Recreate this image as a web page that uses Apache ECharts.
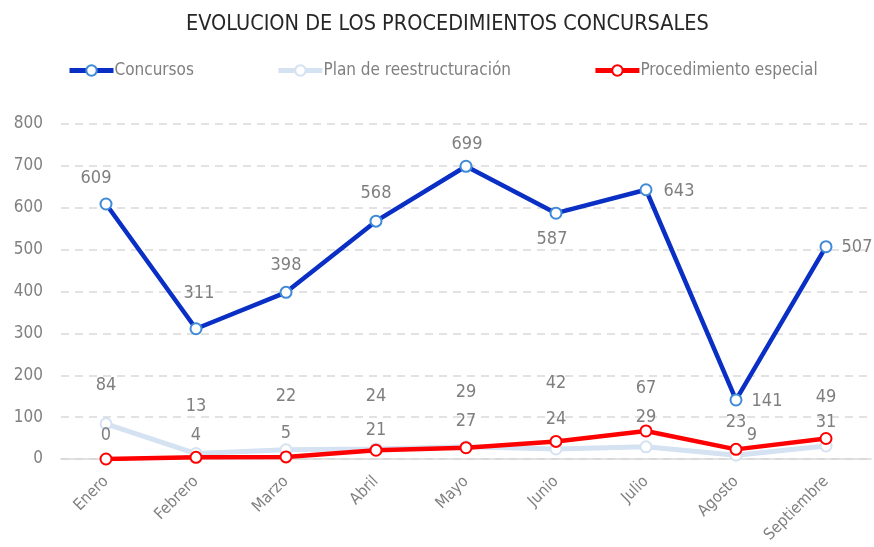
<!DOCTYPE html>
<html>
<head>
<meta charset="utf-8">
<script src="https://cdn.jsdelivr.net/npm/echarts@6/dist/echarts.min.js"></script>
<style>
  html, body { margin: 0; padding: 0; background: #fff; }
  #chart { width: 874px; height: 547px; }
</style>
</head>
<body>
<div id="chart"></div>
<script>
// datos
var meses = ['Enero', 'Febrero', 'Marzo', 'Abril', 'Mayo', 'Junio', 'Julio', 'Agosto', 'Septiembre'];
var concursos = [609, 311, 398, 568, 699, 587, 643, 141, 507];
var planReestructuracion = [84, 13, 22, 24, 29, 24, 29, 9, 31];
var procedimientoEspecial = [0, 4, 5, 21, 27, 42, 67, 23, 49];
var yTicks = [0, 100, 200, 300, 400, 500, 600, 700, 800];

// desplazamiento de las etiquetas (como en la hoja original)
var offConcursos = [[-10, -26], [3, -35], [0, -27], [0, -28], [1, -22], [-4, 26], [33, 2], [31, 1], [31, 1]];
var offPlan = [[0, -38], [0, -47], [0, -53], [0, -53], [0, -55], [0, -30], [0, -30], [16, -20], [0, -24]];
var offEspecial = [[0, -24], [0, -22], [0, -24], [0, -20], [0, -26], [0, -58], [0, -43], [0, -27], [0, -41]];

var font = "'DejaVu Sans Condensed', 'Roboto', sans-serif";

function withLabels(values, offsets){
  return values.map(function(v, i){
    return { value: v, label: { offset: offsets[i] } };
  });
}

var myChart = echarts.init(document.getElementById('chart'));

var labelBase = {
  show: true,
  position: 'inside',
  color: '#7f7f7f',
  fontSize: 18,
  fontFamily: font
};

var option = {
  animation: false,
  title: {
    text: 'EVOLUCION DE LOS PROCEDIMIENTOS CONCURSALES',
    left: 181,
    top: 8,
    textStyle: {
      color: '#262626',
      fontSize: 21.5,
      fontWeight: 'normal',
      fontFamily: font
    }
  },
  legend: {
    top: 57,
    left: 62,
    itemGap: 82,
    itemWidth: 44,
    itemHeight: 13,
    lineStyle: { width: 5 },
    textStyle: {
      color: '#808080',
      fontSize: 17,
      fontFamily: font,
      padding: [0, 0, 0, -4]
    },
    data: ['Concursos', 'Plan de reestructuración', 'Procedimiento especial']
  },
  grid: {
    left: 61,
    right: 3,
    top: 124,
    bottom: 88
  },
  xAxis: {
    type: 'category',
    data: meses,
    axisLine: { lineStyle: { color: '#d9d9d9', width: 1.5 } },
    axisTick: { show: false },
    axisLabel: {
      rotate: 45,
      color: '#808080',
      fontSize: 16,
      fontFamily: font,
      margin: 20
    }
  },
  yAxis: {
    type: 'value',
    min: yTicks[0],
    max: yTicks[yTicks.length - 1],
    interval: 100,
    axisLine: { show: false },
    axisTick: { show: false },
    axisLabel: {
      color: '#808080',
      fontSize: 17,
      fontFamily: font,
      margin: 18
    },
    splitLine: {
      lineStyle: {
        color: '#d9d9d9',
        type: [8, 6],
        width: 1.5
      }
    }
  },
  series: [
    {
      name: 'Plan de reestructuración',
      type: 'line',
      z: 2,
      symbol: 'circle',
      symbolSize: 11,
      lineStyle: { color: '#d5e2f2', width: 5 },
      itemStyle: { color: '#ffffff', borderColor: '#d5e2f2', borderWidth: 2 },
      label: labelBase,
      data: withLabels(planReestructuracion, offPlan)
    },
    {
      name: 'Procedimiento especial',
      type: 'line',
      z: 3,
      symbol: 'circle',
      symbolSize: 11,
      lineStyle: { color: '#ff0000', width: 4.5 },
      itemStyle: { color: '#ffffff', borderColor: '#ff0000', borderWidth: 2 },
      label: labelBase,
      data: withLabels(procedimientoEspecial, offEspecial)
    },
    {
      name: 'Concursos',
      type: 'line',
      z: 4,
      symbol: 'circle',
      symbolSize: 11,
      lineStyle: { color: '#0a2fc4', width: 4.5 },
      itemStyle: { color: '#ffffff', borderColor: '#3f8ad6', borderWidth: 2 },
      label: labelBase,
      data: withLabels(concursos, offConcursos)
    }
  ]
};

myChart.setOption(option);
</script>
</body>
</html>
